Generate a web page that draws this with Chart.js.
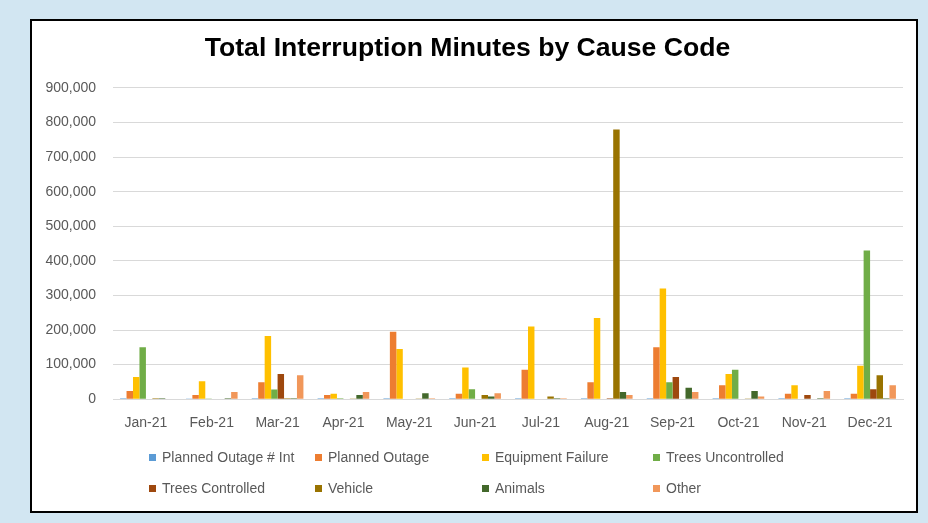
<!DOCTYPE html>
<html>
<head>
<meta charset="utf-8">
<script src="https://cdn.jsdelivr.net/npm/chart.js@4.4.1/dist/chart.umd.min.js"></script>
<style>
  body{margin:0;background:#d2e6f2;width:928px;height:523px;overflow:hidden;font-family:"Liberation Sans",Arial,sans-serif;}
  #box{position:absolute;left:30px;top:19px;width:884px;height:490px;border:2px solid #000;background:#fff;}
  #legend{position:absolute;left:149px;top:446px;display:grid;grid-template-columns:166px 167px 171px 160px;grid-auto-rows:31px;font-size:14px;color:#595959;}
  #legend div{display:flex;align-items:center;height:22px;white-space:nowrap;}
  #legend span{display:inline-block;width:7px;height:7px;margin-right:6px;}
</style>
</head>
<body>
<div id="box"><canvas id="chart" width="884" height="490"></canvas></div>
<div id="legend"></div>
<script>
const months = ['Jan-21','Feb-21','Mar-21','Apr-21','May-21','Jun-21','Jul-21','Aug-21','Sep-21','Oct-21','Nov-21','Dec-21'];
const plannedInt = [3000,2000,3000,3000,3000,3000,3000,3000,3000,3000,3000,3000];
const planned    = [24000,12000,49000,12000,195000,16000,85000,49000,150000,40000,16000,16000];
const equipment  = [64000,52000,183000,16000,145000,92000,210000,235000,320000,73000,40000,97000];
const treesUnc   = [150000,2000,28000,3000,0,29000,0,0,49000,85000,0,430000];
const treesCtrl  = [0,0,73000,0,0,0,0,3000,64000,0,12000,29000];
const vehicle    = [3000,0,3000,2000,2000,12000,8000,780000,0,2000,0,69000];
const animals    = [3000,3000,3000,12000,17000,8000,3000,21000,33000,24000,3000,3000];
const other      = [0,21000,69000,21000,3000,17000,3000,12000,21000,8000,24000,40000];

const names = ['Planned Outage # Int','Planned Outage','Equipment Failure','Trees Uncontrolled','Trees Controlled','Vehicle','Animals','Other'];
const series = [plannedInt,planned,equipment,treesUnc,treesCtrl,vehicle,animals,other];
const colors = ['#5b9bd5','#ed7d31','#ffc000','#70ad47','#9e480e','#997300','#43682b','#f1975a'];

const chart = new Chart(document.getElementById('chart'),{
    type:'bar',
    data:{
        labels:months,
        datasets:series.map((d,i)=>({label:names[i],data:d,backgroundColor:colors[i],borderWidth:0,barPercentage:1,categoryPercentage:0.785}))
    },
    options:{
        responsive:false,
        animation:false,
        layout:{padding:{left:0,right:13,top:0,bottom:63}},
        plugins:{
            legend:{display:false},
            tooltip:{enabled:false},
            title:{display:true,text:'Total Interruption Minutes by Cause Code',color:'#000',
                font:{family:'"Liberation Sans", Arial, sans-serif',size:26.6,weight:'bold'},padding:{top:12,bottom:23}}
        },
        scales:{
            x:{
                grid:{display:false,drawTicks:false},
                border:{color:'#d9d9d9',width:1},
                ticks:{color:'#595959',font:{family:'"Liberation Sans", Arial, sans-serif',size:14},padding:16,maxRotation:0}
            },
            y:{
                min:0,max:900000,
                grid:{color:'#d9d9d9',drawTicks:false},
                border:{display:false},
                afterFit:s=>{s.width=81;},
                ticks:{stepSize:100000,color:'#595959',padding:17,
                    font:{family:'"Liberation Sans", Arial, sans-serif',size:14},
                    callback:v=>v.toLocaleString('en-US')}
            }
        }
    }
});

const lg = document.getElementById('legend');
chart.data.datasets.forEach(ds=>{
    const it = document.createElement('div');
    it.innerHTML = '<span style="background:'+ds.backgroundColor+'"></span>'+ds.label;
    lg.appendChild(it);
});
</script>
</body>
</html>
